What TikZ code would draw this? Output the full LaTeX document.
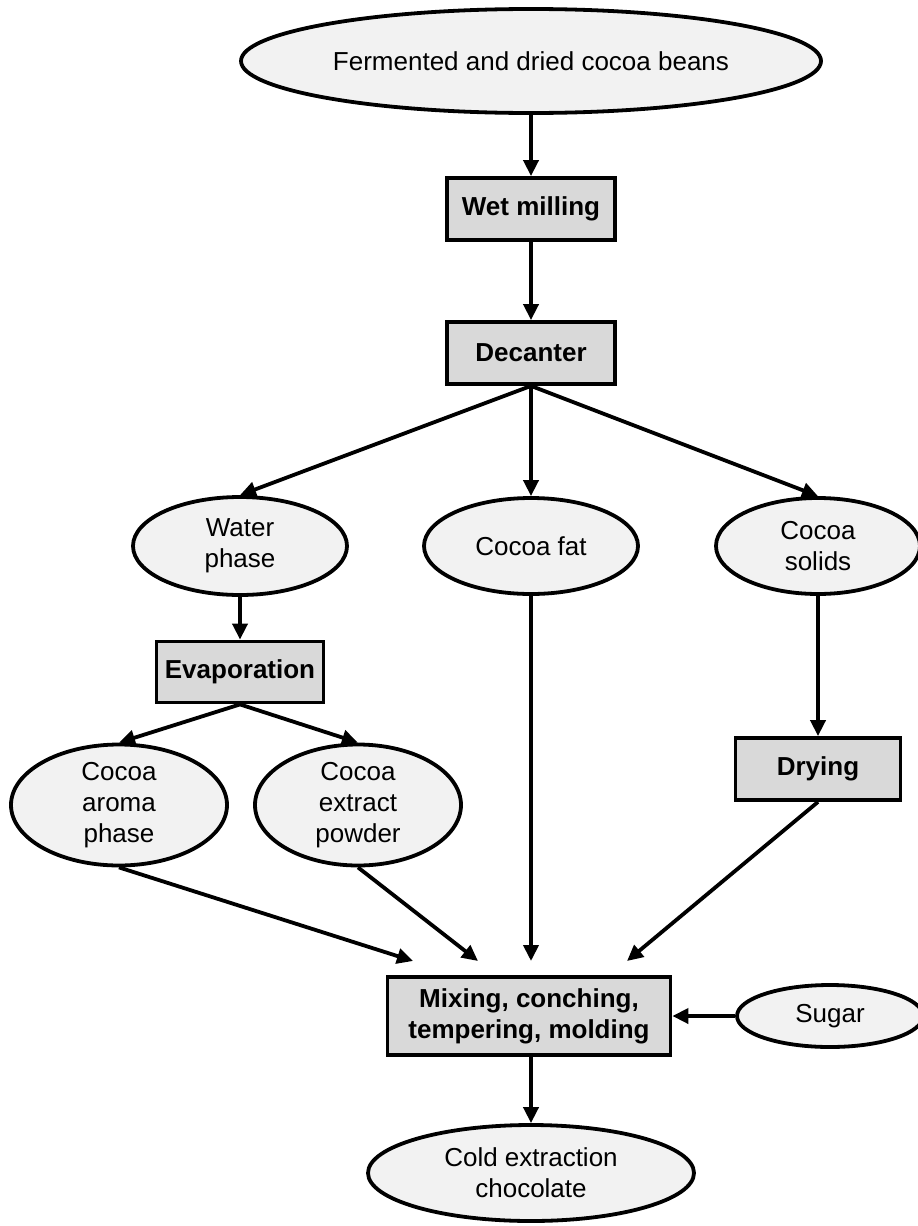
\documentclass[tikz,border=0pt]{standalone}
\usepackage{fontspec}
\setmainfont{Liberation Sans}
\usetikzlibrary{shapes.geometric,arrows.meta}
\definecolor{ellfill}{HTML}{F2F2F2}
\definecolor{boxfill}{HTML}{D9D9D9}
\tikzset{
  lbl/.style={font=\fontsize{26}{31}\selectfont, align=center, inner sep=0pt},
  oval/.style={lbl, ellipse, draw=black, line width=3.8pt, fill=ellfill},
  stepbox/.style={lbl, rectangle, draw=black, line width=3.8pt, fill=boxfill, font=\fontsize{26}{31}\selectfont\bfseries},
  conn/.style={line width=3.8pt, -{Triangle[length=16pt,width=15pt]}},
}
\begin{document}
\begin{tikzpicture}[x=1pt,y=-1pt]
\useasboundingbox (0,0) rectangle (918,1226);
% nodes
\node[oval, minimum width=580, minimum height=104] (beans) at (531,61) {Fermented and dried cocoa beans};
\node[stepbox, minimum width=168, minimum height=62] (wet) at (531,209) {Wet milling};
\node[stepbox, minimum width=168, minimum height=62] (dec) at (531,353) {Decanter};
\node[oval, minimum width=214, minimum height=98] (water) at (240,546) {Water\\phase};
\node[oval, minimum width=214, minimum height=96] (fat) at (531,546) {Cocoa fat};
\node[oval, minimum width=204, minimum height=96] (solids) at (818,546) {Cocoa\\solids};
\node[stepbox, minimum width=167, minimum height=61] (evap) at (240,672) {Evaporation};
\node[oval, minimum width=216, minimum height=115] (aroma) at (119,805) {Cocoa\\aroma\\phase};
\node[oval, minimum width=206, minimum height=115] (extract) at (358,805) {Cocoa\\extract\\powder};
\node[stepbox, minimum width=165, minimum height=62] (dry) at (818,769) {Drying};
\node[stepbox, minimum width=283, minimum height=78] (mix) at (529,1016) {Mixing, conching,\\tempering, molding};
\node[oval, minimum width=186, minimum height=62] (sugar) at (830,1016) {Sugar};
\node[oval, minimum width=326, minimum height=96] (cold) at (531,1173) {Cold extraction\\chocolate};
% free arrow ends above the mixing box
\coordinate (m1) at (413,961);
\coordinate (m2) at (478,961);
\coordinate (m3) at (531,961);
\coordinate (m4) at (627,961);
% connectors
\draw[conn] (beans) -- (wet);
\draw[conn] (wet) -- (dec);
\draw[conn] (dec.south) -- (water.north);
\draw[conn] (dec.south) -- (fat.north);
\draw[conn] (dec.south) -- (solids.north);
\draw[conn] (water) -- (evap);
\draw[conn] (evap.south) -- (aroma.north);
\draw[conn] (evap.south) -- (extract.north);
\draw[conn] (solids) -- (dry);
\draw[conn] (aroma.south) -- (m1);
\draw[conn] (extract.south) -- (m2);
\draw[conn] (fat.south) -- (m3);
\draw[conn] (dry.south) -- (m4);
\draw[conn] (sugar.west) -- (mix.east);
\draw[conn] (mix.south -| cold.north) -- (cold.north);
\end{tikzpicture}
\end{document}
